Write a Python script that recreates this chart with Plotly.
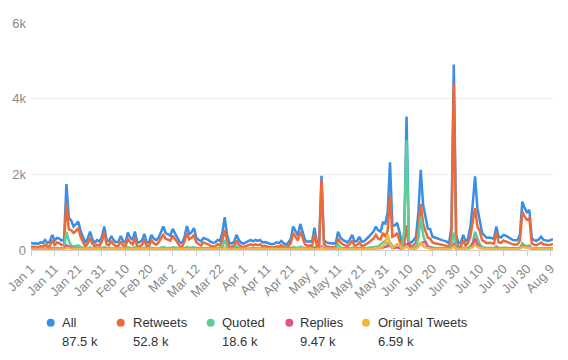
import pandas as pd
import plotly.graph_objects as go

start_date = "2021-01-01"

all_tweets = [
    190, 170, 180, 160, 200, 190, 265, 180, 230, 400,
    250, 320, 300, 250, 280, 1740, 850, 780, 620, 700,
    750, 500, 350, 185, 300, 485, 280, 190, 265, 220,
    350, 620, 265, 230, 370, 260, 200, 220, 370, 240,
    185, 460, 330, 265, 490, 190, 210, 250, 425, 185,
    220, 400, 300, 260, 318, 450, 620, 450, 420, 380,
    560, 420, 318, 200, 180, 350, 635, 420, 470, 580,
    320, 265, 230, 318, 300, 265, 220, 190, 200, 265,
    240, 450, 865, 400, 190, 170, 220, 400, 260, 190,
    170, 200, 240, 265, 230, 265, 240, 265, 200, 210,
    190, 180, 150, 170, 200, 180, 240, 180, 130, 200,
    300, 620, 500, 380, 690, 450, 265, 220, 230, 220,
    590, 220, 200, 1960, 265, 200, 175, 170, 180, 175,
    485, 330, 265, 230, 200, 280, 400, 220, 240, 350,
    220, 230, 280, 350, 420, 485, 620, 520, 485, 725,
    700, 1000, 2315, 650, 650, 715, 485, 175, 400, 3530,
    175, 200, 260, 350, 1000, 2120, 1200, 880, 570, 550,
    350, 330, 300, 280, 260, 240, 220, 175, 600, 4900,
    400, 175, 200, 400, 220, 300, 600, 1200, 1945, 1100,
    820, 450, 380, 320, 330, 320, 300, 620, 350, 330,
    400, 380, 340, 320, 265, 260, 265, 400, 1280, 1105,
    1000, 1060, 310, 260, 240, 280, 350, 265, 250, 240,
    260, 290,
]

retweets = [
    90, 80, 85, 70, 100, 90, 140, 80, 110, 260,
    130, 200, 180, 130, 150, 1245, 550, 530, 450, 500,
    580, 350, 220, 90, 170, 318, 160, 90, 140, 110,
    220, 480, 150, 120, 240, 140, 100, 110, 230, 120,
    90, 300, 200, 150, 330, 90, 100, 130, 280, 90,
    110, 260, 180, 140, 200, 300, 400, 300, 280, 250,
    380, 280, 200, 100, 90, 220, 450, 280, 320, 400,
    200, 150, 120, 200, 180, 150, 110, 90, 100, 150,
    120, 250, 530, 250, 90, 80, 110, 250, 140, 90,
    80, 100, 120, 150, 120, 150, 130, 150, 100, 110,
    90, 80, 60, 70, 100, 80, 130, 80, 50, 100,
    180, 450, 350, 250, 485, 300, 150, 110, 120, 110,
    420, 110, 100, 1855, 150, 100, 80, 70, 80, 75,
    300, 200, 150, 120, 100, 160, 250, 110, 130, 200,
    110, 120, 150, 200, 250, 300, 400, 300, 280, 450,
    350, 500, 1460, 350, 380, 450, 250, 80, 150, 650,
    70, 90, 130, 200, 600, 1220, 700, 500, 330, 300,
    200, 180, 170, 150, 140, 130, 110, 80, 350, 4420,
    200, 80, 100, 250, 110, 180, 350, 750, 1105, 620,
    500, 260, 220, 180, 190, 180, 170, 485, 200, 190,
    250, 230, 200, 180, 150, 140, 150, 250, 1015, 880,
    800, 840, 180, 140, 130, 160, 200, 150, 140, 130,
    140, 160,
]

quoted = [
    30, 30, 30, 30, 30, 30, 40, 30, 40, 60,
    40, 50, 40, 40, 50, 480, 250, 120, 90, 100,
    120, 80, 60, 40, 50, 70, 50, 40, 50, 40,
    60, 70, 50, 40, 50, 40, 40, 40, 60, 40,
    40, 70, 50, 50, 70, 40, 40, 40, 60, 40,
    40, 60, 50, 40, 50, 60, 80, 60, 60, 50,
    70, 60, 50, 40, 40, 50, 80, 60, 60, 70,
    50, 40, 40, 50, 50, 40, 40, 40, 40, 50,
    40, 80, 265, 80, 40, 40, 40, 100, 50, 40,
    30, 40, 40, 50, 40, 50, 40, 50, 40, 40,
    40, 40, 30, 30, 40, 40, 50, 40, 30, 40,
    50, 80, 60, 50, 90, 60, 40, 40, 40, 40,
    70, 40, 40, 80, 50, 40, 40, 40, 40, 40,
    150, 60, 50, 40, 40, 50, 60, 40, 40, 60,
    40, 40, 50, 60, 60, 70, 100, 90, 150, 200,
    250, 150, 200, 100, 100, 150, 60, 60, 500, 2900,
    150, 60, 60, 80, 300, 880, 400, 200, 100, 80,
    60, 50, 50, 50, 50, 40, 40, 40, 120, 460,
    80, 40, 40, 60, 40, 50, 100, 200, 485, 300,
    150, 80, 60, 50, 50, 50, 50, 100, 60, 50,
    60, 60, 50, 50, 40, 40, 40, 60, 180, 120,
    100, 120, 50, 40, 40, 40, 50, 40, 40, 40,
    40, 40,
]

replies = [
    20, 20, 20, 20, 20, 20, 25, 20, 25, 40,
    30, 30, 30, 30, 30, 120, 80, 60, 50, 50,
    50, 40, 30, 20, 30, 40, 30, 20, 30, 25,
    35, 50, 30, 25, 35, 25, 20, 25, 35, 25,
    20, 40, 30, 25, 40, 20, 25, 25, 35, 20,
    25, 35, 30, 25, 30, 35, 50, 35, 35, 30,
    45, 35, 30, 25, 20, 30, 50, 35, 40, 45,
    30, 25, 25, 30, 30, 25, 25, 20, 20, 25,
    25, 40, 60, 40, 20, 20, 25, 35, 25, 20,
    20, 20, 25, 25, 25, 25, 25, 25, 20, 20,
    20, 20, 15, 20, 20, 20, 25, 20, 15, 20,
    30, 50, 45, 35, 55, 40, 25, 25, 25, 25,
    50, 25, 20, 90, 30, 20, 20, 20, 20, 20,
    40, 30, 25, 25, 20, 30, 40, 25, 25, 35,
    25, 25, 30, 35, 40, 45, 55, 50, 50, 60,
    70, 100, 120, 50, 60, 70, 50, 30, 80, 150,
    180, 40, 40, 50, 100, 180, 200, 220, 80, 60,
    40, 35, 35, 35, 30, 30, 30, 25, 60, 150,
    40, 25, 25, 50, 30, 35, 60, 150, 310, 150,
    80, 50, 45, 40, 40, 40, 35, 60, 40, 40,
    45, 45, 40, 40, 35, 30, 30, 50, 100, 80,
    70, 70, 35, 30, 30, 30, 35, 30, 30, 30,
    30, 30,
]

original_tweets = [
    15, 15, 15, 15, 15, 15, 20, 15, 20, 30,
    20, 25, 25, 20, 20, 60, 40, 35, 30, 30,
    35, 30, 25, 15, 20, 30, 20, 15, 20, 20,
    25, 35, 20, 20, 25, 20, 15, 20, 25, 20,
    15, 30, 25, 20, 30, 15, 20, 20, 25, 15,
    20, 25, 25, 20, 25, 30, 40, 30, 30, 25,
    35, 30, 25, 20, 15, 25, 40, 30, 30, 35,
    25, 20, 20, 25, 25, 20, 20, 15, 15, 20,
    20, 35, 50, 30, 15, 15, 20, 30, 20, 15,
    15, 15, 20, 20, 20, 20, 20, 20, 15, 15,
    15, 15, 15, 15, 20, 15, 20, 15, 10, 15,
    25, 40, 35, 30, 45, 35, 20, 20, 20, 20,
    40, 20, 20, 60, 25, 20, 15, 15, 15, 15,
    35, 25, 20, 20, 15, 25, 35, 20, 20, 30,
    20, 20, 25, 30, 35, 40, 50, 45, 60, 100,
    200, 400, 150, 60, 100, 130, 130, 40, 60, 100,
    40, 30, 30, 40, 80, 200, 100, 70, 50, 40,
    35, 30, 30, 30, 25, 25, 25, 20, 40, 100,
    35, 20, 20, 40, 25, 30, 50, 80, 150, 80,
    60, 40, 35, 30, 30, 30, 30, 50, 35, 30,
    40, 35, 30, 30, 25, 25, 25, 40, 80, 70,
    60, 60, 30, 25, 25, 25, 30, 25, 25, 25,
    25, 25,
]

x_tick_labels = ["Jan 1", "Jan 11", "Jan 21", "Jan 31", "Feb 10", "Feb 20", "Mar 2",
                 "Mar 12", "Mar 22", "Apr 1", "Apr 11", "Apr 21", "May 1", "May 11",
                 "May 21", "May 31", "Jun 10", "Jun 20", "Jun 30", "Jul 10", "Jul 20",
                 "Jul 30", "Aug 9"]
y_tick_values = [0, 2000, 4000, 6000]
y_tick_labels = ["0", "2k", "4k", "6k"]

series_names = ["All", "Retweets", "Quoted", "Replies", "Original Tweets"]
series_totals = ["87.5 k", "52.8 k", "18.6 k", "9.47 k", "6.59 k"]
series_colors = ["#3a8ee6", "#ec6a38", "#5ccf98", "#e6538a", "#f4b63f"]
series_values = [all_tweets, retweets, quoted, replies, original_tweets]

dates = pd.date_range(start_date, periods=len(all_tweets), freq="D")
tick_dates = [pd.Timestamp(f"{lbl} 2021") for lbl in x_tick_labels]

FONT = "Liberation Sans, Arial, Helvetica, sans-serif"

fig = go.Figure()
for name, vals, col in zip(series_names, series_values, series_colors):
    fig.add_trace(go.Scatter(x=dates, y=vals, mode="lines", name=name,
                             line=dict(color=col, width=2.5),
                             showlegend=False, hoverinfo="skip"))

W, H = 568, 360
ML, MR, MT, MB = 31, 15, 23, 110
pw, ph = W - ML - MR, H - MT - MB


def px_x(px):
    return (px - ML) / pw


def px_y(py):
    return (H - MB - py) / ph


dot_x = [50.7, 120.7, 210.7, 289.3, 366.0]
text_x = [61, 131.7, 221, 299.3, 376.7]
shapes = []
annotations = []
for i, (name, total, col) in enumerate(zip(series_names, series_totals, series_colors)):
    shapes.append(dict(type="circle", xref="paper", yref="paper",
                       xsizemode="pixel", ysizemode="pixel",
                       xanchor=px_x(dot_x[i]), yanchor=px_y(322.7),
                       x0=-4, x1=4, y0=-4, y1=4,
                       fillcolor=col, line=dict(width=0)))
    annotations.append(dict(xref="paper", yref="paper", x=px_x(text_x[i] - 1), y=px_y(322.5),
                            xanchor="left", yanchor="middle", text=name, showarrow=False,
                            font=dict(family=FONT, size=13, color="#333333")))
    annotations.append(dict(xref="paper", yref="paper", x=px_x(text_x[i] - 1), y=px_y(341.5),
                            xanchor="left", yanchor="middle", text=total, showarrow=False,
                            font=dict(family=FONT, size=13, color="#333333")))

fig.update_layout(
    width=W, height=H,
    margin=dict(l=ML, r=MR, t=MT, b=MB, autoexpand=False),
    paper_bgcolor="white", plot_bgcolor="white",
    font=dict(family=FONT, size=13, color="#888888"),
    shapes=shapes, annotations=annotations,
    showlegend=False,
)
fig.update_xaxes(range=[dates[0], dates[-1]], tickvals=tick_dates, ticktext=x_tick_labels,
                 tickangle=-45, showgrid=False, showline=True, linecolor="#d0d0d0",
                 ticks="outside", ticklen=5, tickcolor="#d0d0d0", automargin=False,
                 tickfont=dict(size=13, color="#8a8a8a"), zeroline=False)
fig.update_yaxes(range=[0, 6000], tickvals=y_tick_values, ticktext=y_tick_labels,
                 showgrid=True, gridcolor="#eeeeee", gridwidth=1, zeroline=False,
                 showline=False, ticks="", tickfont=dict(size=13, color="#8a8a8a"),
                 ticklabelstandoff=4, automargin=False)

fig.write_html("out.html", config={"displayModeBar": False},
               post_script="document.body.style.margin='0';document.body.style.overflow='hidden';")
